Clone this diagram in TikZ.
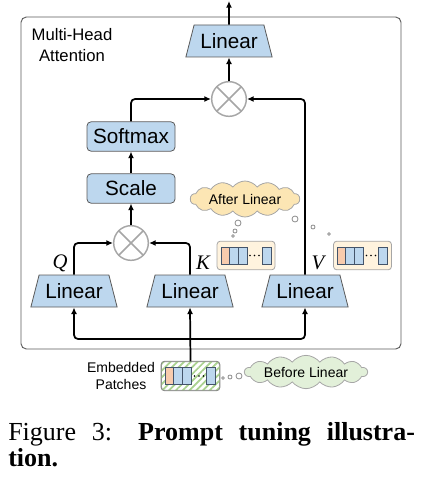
\documentclass[tikz,border=0pt]{standalone}
\usepackage{fontspec}
\setmainfont{Liberation Serif}
\setsansfont{Liberation Sans}
\usepackage{tikz}
\usetikzlibrary{shapes.geometric, shapes.symbols, patterns.meta, arrows.meta, calc}
\definecolor{boxblue}{HTML}{BDD7EE}
\definecolor{edgegray}{HTML}{5A5A5A}
\definecolor{ringgray}{HTML}{A6A6A6}
\definecolor{cloudyellow}{HTML}{FCE6B4}
\definecolor{cloudgreen}{HTML}{E2F0D9}
\definecolor{tokencream}{HTML}{FFF3DE}
\definecolor{tokenorange}{HTML}{F8CBAD}
\definecolor{celledge}{HTML}{44546A}
\definecolor{hatchgreen}{HTML}{A9D18E}
\tikzset{
    linbox/.style={trapezium, trapezium angle=66, trapezium stretches=true,
        minimum width=65pt, minimum height=24pt, inner sep=0pt,
        fill=boxblue, draw=edgegray, line width=0.6pt, font=\sffamily\fontsize{15.5}{18}\selectfont},
    opbox/.style={rectangle, rounded corners=3pt, minimum width=66pt, minimum height=22pt,
        inner sep=0pt, fill=boxblue, draw=edgegray, line width=0.6pt,
        font=\sffamily\fontsize{15.5}{18}\selectfont},
    mulnode/.style={circle, minimum size=26pt, inner sep=0pt, fill=white, draw=ringgray,
        line width=1.1pt, path picture={
            \draw[ringgray, line width=1.1pt]
                (path picture bounding box.south west) -- (path picture bounding box.north east)
                (path picture bounding box.north west) -- (path picture bounding box.south east);}},
    arr/.style={line width=1.3pt, -{Latex[length=5pt, width=4.5pt]}, rounded corners=3pt},
    qkvlabel/.style={font=\fontsize{15.5}{18}\selectfont\itshape},
    thought/.style={cloud, cloud puffs=14, cloud puff arc=105, cloud ignores aspect,
        draw=ringgray, line width=0.6pt, inner sep=0pt,
        font=\sffamily\fontsize{10.5}{12}\selectfont},
    tokenbox/.style={rectangle, rounded corners=2.5pt, minimum width=43.5pt, minimum height=21.5pt,
        inner sep=0pt, fill=tokencream, draw=ringgray, line width=0.6pt},
    bubble/.style={circle, draw=edgegray!70, fill=white, line width=0.6pt, inner sep=0pt},
    cell/.style={draw=celledge, line width=0.5pt}
}
% row of prompt + patch cells around a point
\newcommand{\tokenrow}[1]{%
    \fill[tokenorange] ($(#1)+(-25,-8.5)$) rectangle ($(#1)+(-17,8.5)$);
    \draw[cell] ($(#1)+(-25,-8.5)$) rectangle ($(#1)+(-17,8.5)$);
    \foreach \a/\b in {-17/-8, -8/1, 16/25} {
        \draw[cell, fill=boxblue] ($(#1)+(\a,-8.5)$) rectangle ($(#1)+(\b,8.5)$);
    }
    \foreach \d in {4, 8.5, 13} {
        \fill ($(#1)+(\d,0)$) circle (0.9);
    }
}

\begin{document}
\begin{tikzpicture}[x=0.75pt, y=-0.75pt]
    \useasboundingbox (0,0) rectangle (424,478);

    % ---------------- frame ----------------
    \draw[edgegray, line width=0.7pt, rounded corners=4pt] (21,17) rectangle (401,349);
    \node[align=center, font=\sffamily\fontsize{12.5}{15.75}\selectfont] (title) at (72,45)
        {Multi-Head\\Attention};

    % ---------------- blocks ----------------
    \node[linbox] (linTop) at (229,41) {Linear};
    \node[mulnode] (mulTop) at (229,99) {};
    \node[opbox] (softmax) at (131,136.5) {Softmax};
    \node[opbox] (scale) at (131,188.5) {Scale};
    \node[mulnode] (mulQK) at (131,243) {};
    \node[linbox] (linQ) at (74,291) {Linear};
    \node[linbox] (linK) at (190,291) {Linear};
    \node[linbox] (linV) at (305,291) {Linear};

    \node[qkvlabel] (labQ) at (60,263) {Q};
    \node[qkvlabel] (labK) at (203,263) {K};
    \node[qkvlabel] (labV) at (318,263) {V};

    \coordinate (outTop) at (229,1);
    \coordinate (split) at (190,339);

    % ---------------- connectors ----------------
    \draw[arr] (linTop.north) -- (outTop);
    \draw[arr] (mulTop.north) -- (linTop.south);
    \draw[arr] (softmax.north) |- (mulTop.west);
    \draw[arr] (linV.north) |- (mulTop.east);
    \draw[arr] (scale.north) -- (softmax.south);
    \draw[arr] (mulQK.north) -- (scale.south);
    \draw[arr] (linQ.north) |- (mulQK.west);
    \draw[arr] (linK.north) |- (mulQK.east);

    % ---------------- input ----------------
    \node[tokenbox, fill=white] (patches) at (190.5,376) {};
    \fill[pattern={Lines[angle=45, distance=3.6pt, line width=1.3pt]}, pattern color=hatchgreen,
        rounded corners=2.5pt] (patches.south west) rectangle (patches.north east);
    \draw[ringgray!80!black, line width=0.6pt, rounded corners=2.5pt]
        (patches.south west) rectangle (patches.north east);
    \tokenrow{patches}
    \node[align=center, font=\sffamily\fontsize{10.5}{12.5}\selectfont] (embLabel) at (121,376)
        {Embedded\\Patches};

    \draw[arr] (patches.north) -- (linK.south);
    \draw[arr] (split) -| (linQ.south);
    \draw[arr] (split) -| (linV.south);

    % ---------------- prompts after linear ----------------
    \node[tokenbox] (tokK) at (246,255.5) {};
    \tokenrow{tokK}
    \node[tokenbox] (tokV) at (362.5,255.5) {};
    \tokenrow{tokV}

    \node[thought, fill=cloudyellow, minimum width=82pt, minimum height=27pt] (afterLin)
        at (245,199) {After Linear};
    \node[bubble, minimum size=4.5pt] (bubA1) at (238,223) {};
    \node[bubble, minimum size=3pt] (bubA2) at (235,231) {};
    \node[bubble, minimum size=2pt] (bubA3) at (233,236) {};
    \node[bubble, minimum size=4.5pt] (bubB1) at (295,219) {};
    \node[bubble, minimum size=3pt] (bubB2) at (313,227) {};
    \node[bubble, minimum size=2pt] (bubB3) at (329,234) {};

    % ---------------- before linear ----------------
    \node[thought, fill=cloudgreen, minimum width=92pt, minimum height=25pt] (beforeLin)
        at (306,372) {Before Linear};
    \node[bubble, minimum size=2pt] (bubC1) at (223,378) {};
    \node[bubble, minimum size=3pt] (bubC2) at (230,377) {};
    \node[bubble, minimum size=4.5pt] (bubC3) at (239,376) {};

    % ---------------- caption ----------------
    \node[anchor=base west, inner sep=0pt, font=\fontsize{19.5}{26}\selectfont] (capA) at (8,440)
        {\makebox[305pt][s]{Figure 3:\quad \textbf{Prompt tuning illustra-}}};
    \node[anchor=base west, inner sep=0pt, font=\fontsize{19.5}{26}\selectfont] (capB) at (8,466)
        {\textbf{tion.}};
\end{tikzpicture}
\end{document}
